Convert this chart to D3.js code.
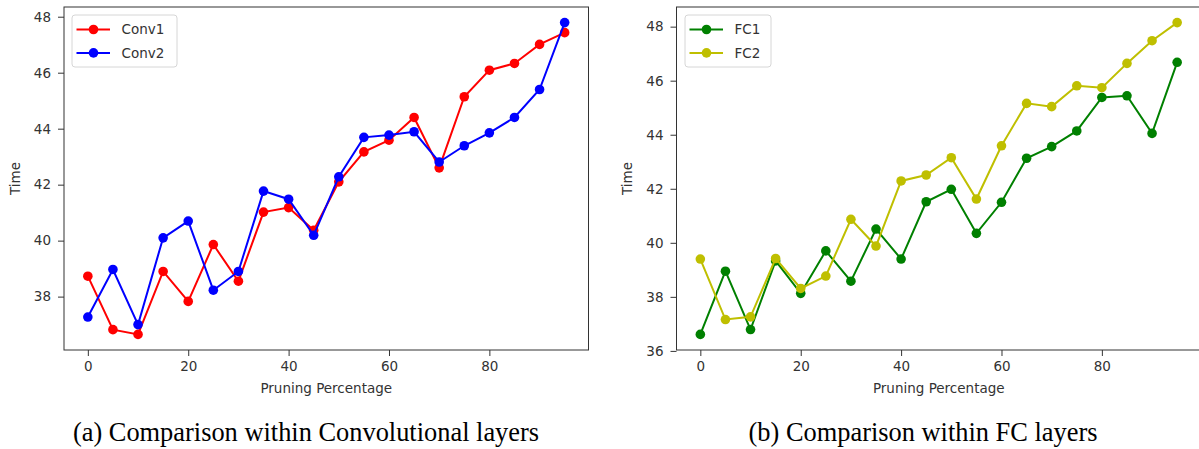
<!DOCTYPE html>
<html>
<head>
<meta charset="utf-8">
<script src="https://cdn.jsdelivr.net/npm/d3@7"></script>
<style>
  body { margin: 0; background: #fff; }
  svg { display: block; }
  .tick text { font-family: "DejaVu Sans", sans-serif; font-size: 13.5px; fill: #333; }
  .tick line { stroke: #333; }
</style>
</head>
<body>
<div id="chart"></div>
<script>
// pruning percentages (x) and measured times (y)
var pruning = [0, 5, 10, 15, 20, 25, 30, 35, 40, 45, 50, 55, 60, 65, 70, 75, 80, 85, 90, 95];
var conv1 = [38.73, 36.82, 36.65, 38.90, 37.83, 39.86, 38.55, 41.02, 41.18, 40.37, 42.10, 43.17, 43.59, 44.40, 42.60, 45.14, 46.09, 46.33, 47.01, 47.43];
var conv2 = [37.27, 38.97, 37.00, 40.10, 40.70, 38.23, 38.90, 41.77, 41.48, 40.19, 42.28, 43.69, 43.77, 43.89, 42.81, 43.39, 43.85, 44.40, 45.40, 47.79];
var fc1 = [36.61, 38.95, 36.79, 39.33, 38.13, 39.70, 38.58, 40.51, 39.40, 41.52, 41.98, 40.35, 41.50, 43.13, 43.56, 44.14, 45.38, 45.44, 44.05, 46.68];
var fc2 = [39.40, 37.16, 37.26, 39.42, 38.31, 38.77, 40.87, 39.88, 42.29, 42.51, 43.15, 41.62, 43.59, 45.16, 45.04, 45.81, 45.74, 46.64, 47.48, 48.15];

var xTicks = [0, 20, 40, 60, 80];
var yTicksConv = [38, 40, 42, 44, 46, 48];
var yTicksFC = [36, 38, 40, 42, 44, 46, 48];

var svg = d3.select("#chart").append("svg")
    .attr("width", 1199)
    .attr("height", 449);

// matplotlib-like autoscale: 5% margins on each side
function padded(ext) {
    var m = (ext[1] - ext[0]) * 0.05;
    return [ext[0] - m, ext[1] + m];
}

function panel(opts) {
    var x = d3.scaleLinear()
        .domain(padded(d3.extent(pruning)))
        .range([opts.left, opts.right]);

    var allY = [].concat.apply([], opts.series.map(function(s) { return s.values; }));
    var y = d3.scaleLinear()
        .domain(padded(d3.extent(allY)))
        .range([opts.bottom, opts.top]);

    var g = svg.append("g");

    g.append("g")
        .attr("transform", "translate(0," + opts.bottom + ")")
        .call(d3.axisBottom(x).tickValues(xTicks).tickSize(6).tickPadding(5))
        .call(function(a) { a.select(".domain").remove(); });

    g.append("g")
        .attr("transform", "translate(" + opts.left + ",0)")
        .call(d3.axisLeft(y).tickValues(opts.yTicks).tickSize(6).tickPadding(7))
        .call(function(a) { a.select(".domain").remove(); });

    // axis labels
    g.append("text")
        .attr("x", (opts.left + opts.right) / 2)
        .attr("y", 393)
        .attr("text-anchor", "middle")
        .style("font-family", "DejaVu Sans, sans-serif")
        .style("font-size", "13.5px")
        .style("fill", "#333")
        .text("Pruning Percentage");

    g.append("text")
        .attr("transform", "translate(" + opts.ylabelX + "," + ((opts.top + opts.bottom) / 2) + ") rotate(-90)")
        .attr("text-anchor", "middle")
        .style("font-family", "DejaVu Sans, sans-serif")
        .style("font-size", "13.5px")
        .style("fill", "#333")
        .text("Time");

    var line = d3.line()
        .x(function(d, i) { return x(pruning[i]); })
        .y(function(d) { return y(d); });

    opts.series.forEach(function(s) {
        g.append("path")
            .datum(s.values)
            .attr("d", line)
            .attr("fill", "none")
            .attr("stroke", s.color)
            .attr("stroke-width", 2);

        g.selectAll(null)
            .data(s.values)
            .enter().append("circle")
            .attr("cx", function(d, i) { return x(pruning[i]); })
            .attr("cy", function(d) { return y(d); })
            .attr("r", 4.8)
            .attr("fill", s.color);
    });

    // spines
    g.append("rect")
        .attr("x", opts.left)
        .attr("y", opts.top)
        .attr("width", opts.right - opts.left)
        .attr("height", opts.bottom - opts.top)
        .attr("fill", "none")
        .attr("stroke", "#333")
        .attr("stroke-width", 1);

    // legend
    var lg = g.append("g").attr("transform", "translate(" + opts.legendX + ",15)");
    lg.append("rect")
        .attr("width", opts.legendW)
        .attr("height", 52)
        .attr("rx", 3)
        .attr("fill", "rgba(255,255,255,0.8)")
        .attr("stroke", "#d6d6d6");

    opts.series.forEach(function(s, i) {
        var ly = 14.5 + i * 23.4;
        lg.append("line")
            .attr("x1", 4.5).attr("x2", 38)
            .attr("y1", ly).attr("y2", ly)
            .attr("stroke", s.color)
            .attr("stroke-width", 2);
        lg.append("circle")
            .attr("cx", 21.5).attr("cy", ly)
            .attr("r", 4.8)
            .attr("fill", s.color);
        lg.append("text")
            .attr("x", 49.5)
            .attr("y", ly)
            .attr("dy", "0.36em")
            .style("font-family", "DejaVu Sans, sans-serif")
            .style("font-size", "13.5px")
            .style("fill", "#333")
            .text(s.name);
    });

    // caption
    svg.append("text")
        .attr("x", opts.captionX)
        .attr("y", 441)
        .attr("text-anchor", "middle")
        .style("font-family", "Liberation Serif, serif")
        .style("font-size", "26.4px")
        .style("fill", "#000")
        .text(opts.caption);
}

panel({
    left: 64, right: 588.5, top: 7, bottom: 350,
    yTicks: yTicksConv, ylabelX: 20,
    series: [{ name: "Conv1", values: conv1, color: "#ff0000" },
             { name: "Conv2", values: conv2, color: "#0000ff" }],
    legendX: 72, legendW: 105,
    captionX: 306,
    caption: "(a) Comparison within Convolutional layers"
});

panel({
    left: 676.5, right: 1201, top: 7, bottom: 350,
    yTicks: yTicksFC, ylabelX: 632,
    series: [{ name: "FC1", values: fc1, color: "#008000" },
             { name: "FC2", values: fc2, color: "#bfbf00" }],
    legendX: 685, legendW: 86,
    captionX: 923,
    caption: "(b) Comparison within FC layers"
});
</script>
</body>
</html>
